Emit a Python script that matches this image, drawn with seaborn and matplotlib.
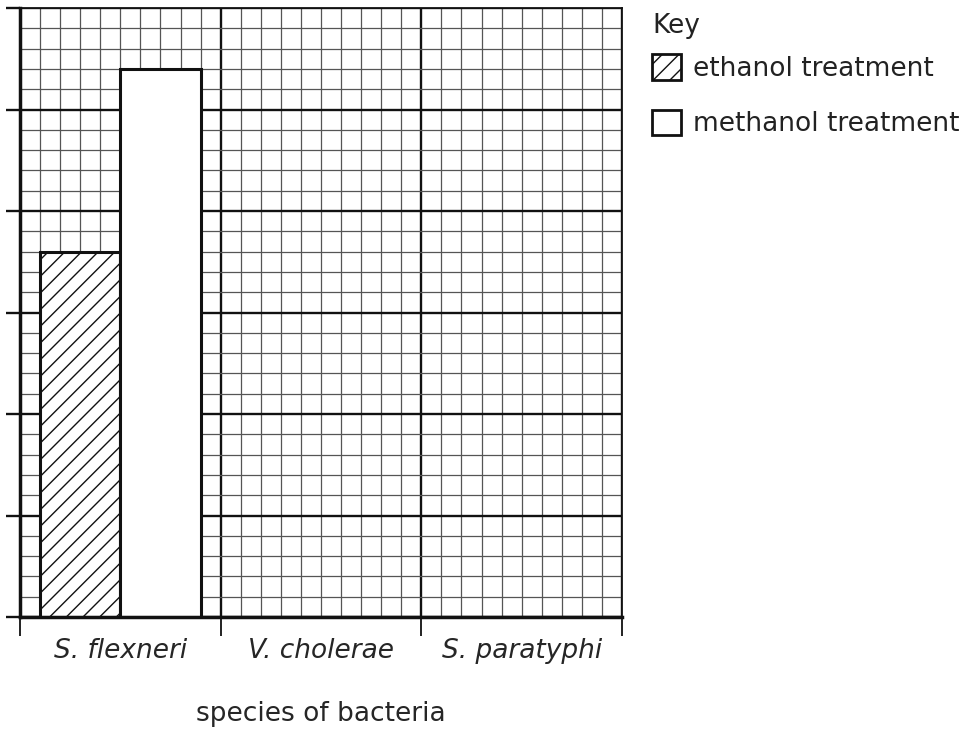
import matplotlib
matplotlib.use("Agg")
import matplotlib.pyplot as plt
from matplotlib.patches import Patch
import numpy as np
import pandas as pd
import seaborn as sns

species = ["S. flexneri", "V. cholerae", "S. paratyphi"]
treatments = ["ethanol treatment", "methanol treatment"]
measured_species = ["S. flexneri", "S. flexneri"]
measured_treatment = ["ethanol treatment", "methanol treatment"]
measured_value = [3.6, 5.4]

df = pd.DataFrame({"species": measured_species,
                   "treatment": measured_treatment,
                   "value": measured_value})

sns.set_theme(style="white")
plt.rcParams["font.family"] = ["DejaVu Sans"]
plt.rcParams["hatch.linewidth"] = 1.0
plt.rcParams["text.color"] = "#222222"

fig = plt.figure(figsize=(9.63, 7.33), dpi=100)
ax = fig.add_axes([20 / 963, 1 - 617 / 733, 602 / 963, 609 / 733])

# graph paper
for xv in np.arange(-0.5, 2.51, 0.1):
    major = abs((xv + 0.5) - round(xv + 0.5)) < 1e-6
    ax.axvline(xv, color="#111111" if major else "#555555",
               lw=1.7 if major else 0.9, zorder=0)
for yv in np.arange(0, 6.01, 0.2):
    major = abs(yv - round(yv)) < 1e-6
    ax.axhline(yv, color="#111111" if major else "#555555",
               lw=1.7 if major else 0.9, zorder=0)

sns.barplot(data=df, x="species", y="value", hue="treatment",
            order=species, hue_order=treatments,
            palette=["white", "white"], edgecolor="#111111", linewidth=2.2,
            width=0.8, errorbar=None, ax=ax, zorder=3)
for p in ax.containers[0]:
    p.set_hatch("//")

ax.get_legend().remove()
handles = [Patch(facecolor="white", edgecolor="#111111", hatch="//", lw=2.0),
           Patch(facecolor="white", edgecolor="#111111", lw=2.0)]
leg = fig.legend(handles, treatments, loc="upper left", bbox_to_anchor=(652 / 963, 1 - 13 / 733),
                 title="Key", frameon=False, fontsize=19, title_fontsize=19,
                 alignment="left", handlelength=1.1, handleheight=1.1,
                 handletextpad=0.45, labelspacing=1.05, borderpad=0, borderaxespad=0)
leg._legend_box.sep = 11

ax.set_xlim(-0.5, 2.5)
ax.set_ylim(0, 6)
ax.set_xticks([0, 1, 2])
ax.set_xticklabels(species, fontsize=19, style="italic")
ax.set_xticks([-0.5, 0.5, 1.5, 2.5], minor=True)
ax.tick_params(axis="x", which="major", length=0, pad=15)
ax.tick_params(axis="x", which="minor", length=14, width=1.3, direction="out",
               bottom=True, color="#111111")
ax.set_yticks(range(0, 7))
ax.set_yticklabels([])
ax.tick_params(axis="y", which="major", length=10, width=1.7, direction="out",
               left=True, color="#111111")
ax.set_xlabel("species of bacteria", fontsize=19, labelpad=27)
ax.set_ylabel("")

for side in ["left", "bottom"]:
    ax.spines[side].set_linewidth(2.5)
    ax.spines[side].set_color("#111111")
for side in ["top", "right"]:
    ax.spines[side].set_linewidth(1.3)
    ax.spines[side].set_color("#111111")
ax.spines["left"].set_zorder(5)
ax.spines["bottom"].set_zorder(5)

fig.savefig("out.png", dpi=100)
